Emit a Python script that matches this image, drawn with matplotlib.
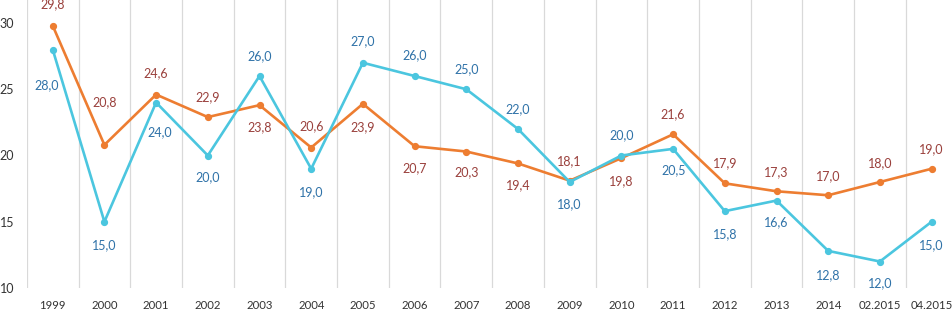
import numpy as np
import matplotlib
matplotlib.use("Agg")
import matplotlib.pyplot as plt
from matplotlib.ticker import FixedLocator

plt.rcParams['font.family'] = ['Lato', 'DejaVu Sans']

# data
categories = ["1999", "2000", "2001", "2002", "2003", "2004", "2005", "2006", "2007",
              "2008", "2009", "2010", "2011", "2012", "2013", "2014", "02.2015", "04.2015"]
orange_vals = [29.8, 20.8, 24.6, 22.9, 23.8, 20.6, 23.9, 20.7, 20.3,
               19.4, 18.1, 19.8, 21.6, 17.9, 17.3, 17.0, 18.0, 19.0]
cyan_vals = [28.0, 15.0, 24.0, 20.0, 26.0, 19.0, 27.0, 26.0, 25.0,
             22.0, 18.0, 20.0, 20.5, 15.8, 16.6, 12.8, 12.0, 15.0]

# label offsets in pixels (dx, dy), dy positive = downwards
orange_off = [(0, -21), (0, -43), (0, -21), (0, -20), (0, 22), (0, -21), (0, 23), (0, 22), (0, 21),
              (0, 22), (0, -20), (0, 23), (0, -20), (0, -20), (0, -19), (0, -19), (0, -19), (0, -20)]
cyan_off = [(-6, 36), (0, 23), (4, 30), (0, 22), (0, -20), (0, 23), (0, -22), (0, -21), (0, -20),
            (0, -20), (0, 22), (0, -20), (1, 21), (0, 23), (0, 22), (0, 24), (0, 22), (0, 23)]

W, H = 952, 309
fig = plt.figure(figsize=(W / 100, H / 100), dpi=100)
ax = fig.add_axes([26.85 / W, (H - 288) / H, (W - 26.85) / W, 288 / H])

x = np.arange(len(categories))
c_orange = "#ED7D31"
c_cyan = "#4BC6DF"
ax.plot(x, orange_vals, color=c_orange, lw=1.9, marker="o", ms=4.2, zorder=3)
ax.plot(x, cyan_vals, color=c_cyan, lw=1.9, marker="o", ms=4.2, zorder=4)

px = 0.72  # points per pixel
for i in range(len(x)):
    dx, dy = orange_off[i]
    ax.annotate(("%.1f" % orange_vals[i]).replace(".", ","), (x[i], orange_vals[i]),
                xytext=(dx * px, -dy * px), textcoords="offset points",
                ha="center", va="center", fontsize=9, color="#9A403C")
    dx, dy = cyan_off[i]
    ax.annotate(("%.1f" % cyan_vals[i]).replace(".", ","), (x[i], cyan_vals[i]),
                xytext=(dx * px, -dy * px), textcoords="offset points",
                ha="center", va="center", fontsize=9, color="#2F72A8")

ax.set_xlim(-0.5, -0.5 + (W - 26.85) / 51.7)
ax.set_ylim(10, 10 + 288 / 13.25)

ax.set_xticks(x)
ax.set_xticklabels(categories, fontsize=8.2, color="#333333")
ax.xaxis.set_minor_locator(FixedLocator(np.arange(-0.5, len(x) + 0.5, 1)))
ax.grid(which="minor", axis="x", color="#d9d9d9", lw=0.9)
ax.tick_params(axis="x", which="both", length=0, pad=8.5)

ax.yaxis.set_major_locator(FixedLocator([10, 15, 20, 25, 30]))
ax.tick_params(axis="y", length=0, pad=9, labelsize=9, labelcolor="#333333")

for s in ax.spines.values():
    s.set_visible(False)

fig.savefig("out.png", dpi=100)
